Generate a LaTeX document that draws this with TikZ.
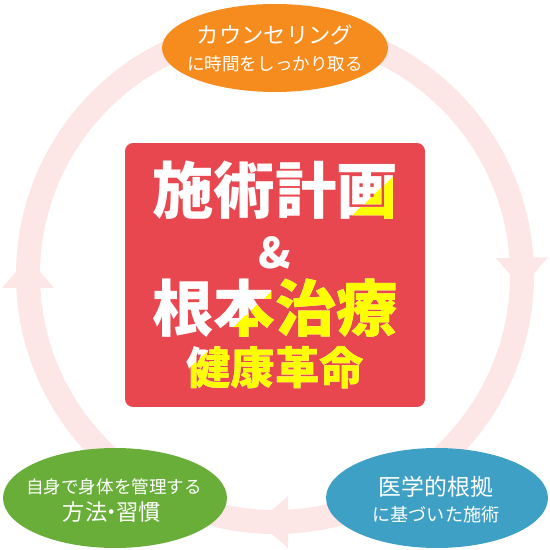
\documentclass[tikz,border=0pt]{standalone}
\usepackage{fontspec}
\setmainfont{Noto Sans CJK JP}
\usetikzlibrary{shapes.geometric}

\definecolor{ringpink}{RGB}{253,230,230}
\definecolor{counselorange}{RGB}{247,140,30}
\definecolor{habitgreen}{RGB}{106,174,58}
\definecolor{evidenceblue}{RGB}{63,160,198}
\definecolor{planred}{RGB}{232,71,79}
\definecolor{hiyellow}{RGB}{255,255,0}

\tikzset{
  bubble/.style={ellipse, inner sep=0pt},
  bubbletext/.style={text=white, inner sep=0pt},
  bigline/.style={inner sep=0pt, font=\fontsize{35pt}{35pt}\selectfont\bfseries},
}

% the four lines of the centre box, in colour #1, node names ending in #2
\newcommand{\planlines}[2]{%
  \node[bigline, text=#1] (plan#2) at (275,360) {施術計画};
  \node[bigline, text=#1, font=\fontsize{24pt}{24pt}\selectfont\bfseries] (amp#2) at (275,297) {\&};
  \node[bigline, text=#1] (root#2) at (275,242) {根本治療};
  \node[bigline, text=#1, font=\fontsize{25.3pt}{25pt}\selectfont\bfseries] (health#2) at (275,182) {健康革命};
}

\begin{document}
\begin{tikzpicture}[x=0.02cm,y=0.02cm]
    \useasboundingbox (0,0) rectangle (550,550);

    % cycle ring with its three heads
    \draw[ringpink, line width=0.48cm] (275,275) circle (247);
    \foreach \a in {1,180,270}{
        \fill[ringpink, shift={(275,275)}, rotate=\a]
        (221,13) -- (273,13) -- (247,-17) -- cycle;
    }

    \node[bubble, fill=counselorange, minimum width=4.52cm, minimum height=1.76cm] (counsel) at (275,502) {};
    \node[bubble, fill=habitgreen, minimum width=4.48cm, minimum height=2cm] (habit) at (115,52) {};
    \node[bubble, fill=evidenceblue, minimum width=4.44cm, minimum height=2cm] (evidence) at (437,52) {};

    \node[bubbletext, font=\fontsize{12.7pt}{13pt}\selectfont] (counselA) at (275,515) {カウンセリング};
    \node[bubbletext, font=\fontsize{10pt}{10pt}\selectfont] (counselB) at (275,486) {に時間をしっかり取る};
    \node[bubbletext, font=\fontsize{10pt}{10pt}\selectfont] (habitA) at (114,63) {自身で身体を管理する};
    \node[bubbletext, font=\fontsize{12.7pt}{13pt}\selectfont] (habitB) at (112,38) {方法\kern-0.3em・\kern-0.3em習慣};
    \node[bubbletext, font=\fontsize{13pt}{13pt}\selectfont] (evidenceA) at (436,63) {医学的根拠};
    \node[bubbletext, font=\fontsize{10.3pt}{10pt}\selectfont] (evidenceB) at (436,35) {に基づいた施術};

    \node[fill=planred, rounded corners=0.16cm, minimum width=6cm, minimum height=5.28cm] (planbox) at (275,275) {};
    \planlines{white}{W}
    \begin{scope}
        \clip (120,117) -- (507,481) -- (507,117) -- cycle;
        \planlines{hiyellow}{Y}
    \end{scope}
\end{tikzpicture}
\end{document}
